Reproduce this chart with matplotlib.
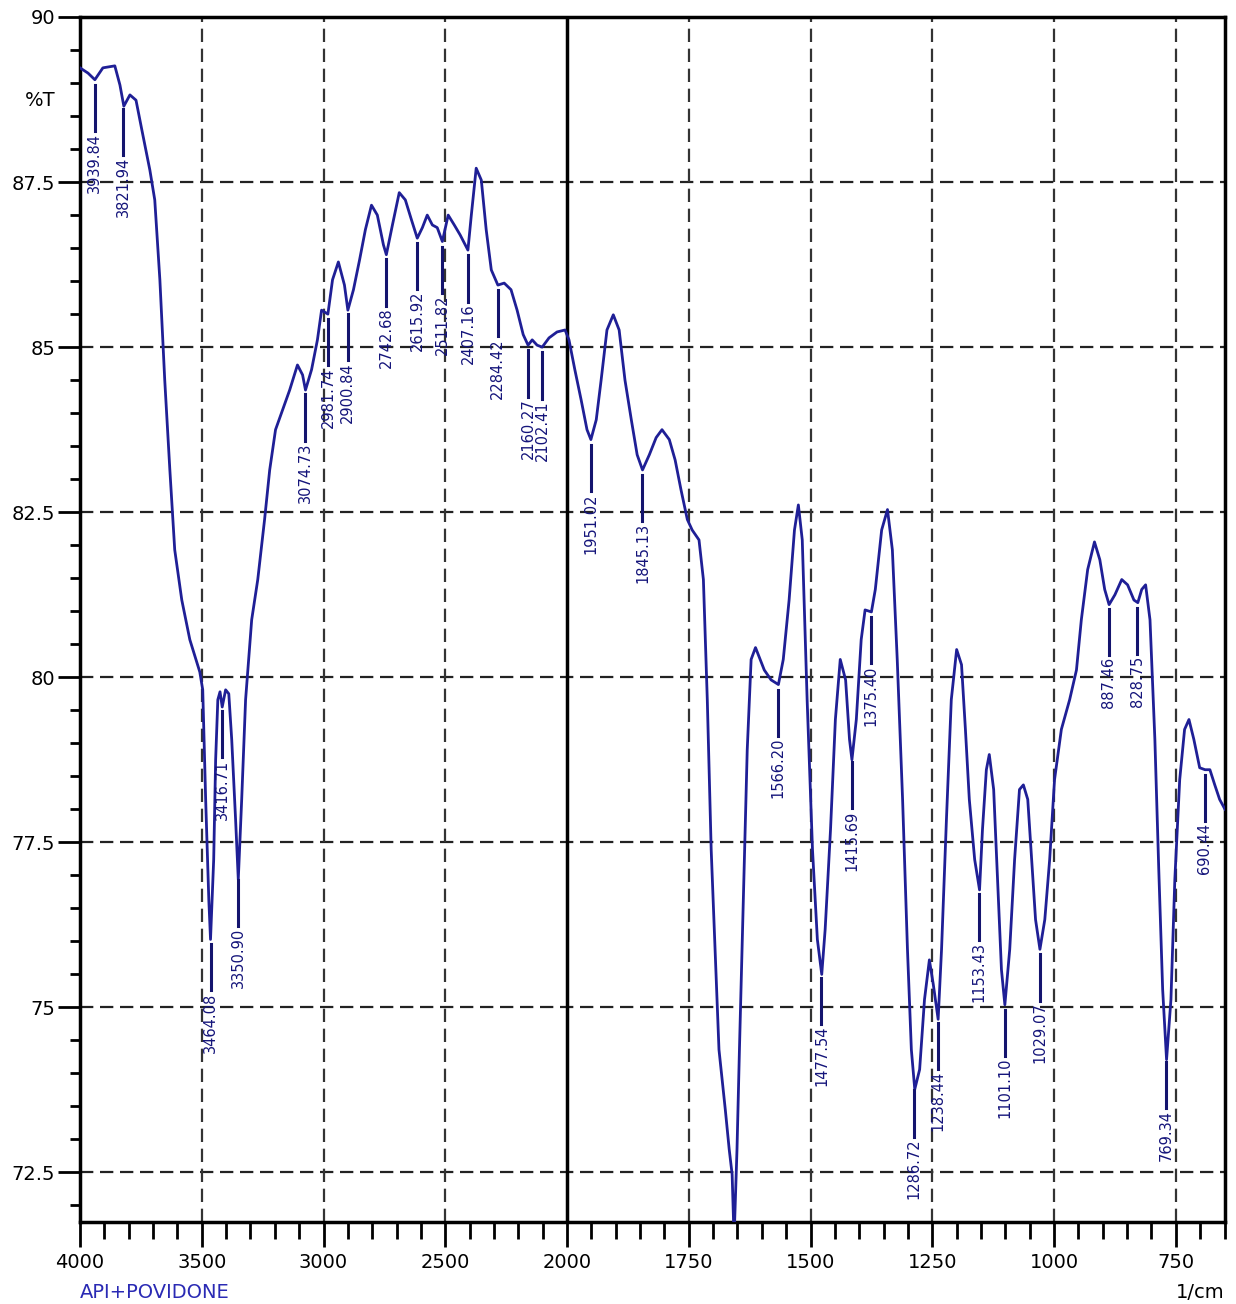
import numpy as np
import matplotlib.pyplot as plt
from matplotlib.ticker import FixedLocator, NullFormatter

# spectrum (wavenumber in 1/cm, transmittance in %T)
wavenumber = [4000, 3967, 3939, 3906, 3857, 3836, 3820, 3795, 3770, 3746,
              3713, 3693, 3672, 3652, 3631, 3611, 3582, 3549, 3508, 3496,
              3484, 3471, 3464, 3451, 3443, 3434, 3425, 3416, 3402, 3389,
              3377, 3361, 3350, 3336, 3320, 3295, 3270, 3242, 3221, 3197,
              3168, 3139, 3107, 3086, 3074, 3049, 3025, 3008, 2982, 2963,
              2939, 2914, 2900, 2877, 2852, 2828, 2803, 2779, 2754, 2742,
              2717, 2689, 2664, 2639, 2615, 2594, 2574, 2553, 2533, 2512,
              2488, 2463, 2439, 2407, 2393, 2373, 2352, 2332, 2311, 2284,
              2258, 2230, 2205, 2180, 2160, 2143, 2123, 2102, 2074, 2041,
              2008, 1996, 1984, 1971, 1959, 1951, 1940, 1930, 1918, 1905,
              1893, 1881, 1868, 1856, 1845, 1831, 1817, 1805, 1790, 1778,
              1766, 1753, 1743, 1729, 1720, 1712, 1704, 1696, 1688, 1675,
              1667, 1661, 1657, 1651, 1646, 1638, 1630, 1622, 1613, 1595,
              1581, 1566, 1556, 1544, 1533, 1525, 1517, 1507, 1496, 1486,
              1477, 1470, 1459, 1449, 1439, 1428, 1420, 1415, 1406, 1396,
              1388, 1375, 1367, 1354, 1342, 1332, 1322, 1311, 1301, 1293,
              1286, 1276, 1266, 1256, 1248, 1238, 1231, 1221, 1211, 1200,
              1190, 1182, 1174, 1163, 1153, 1147, 1139, 1133, 1124, 1116,
              1108, 1101, 1091, 1081, 1071, 1063, 1054, 1046, 1038, 1029,
              1019, 1009, 999, 985, 968, 954, 944, 931, 917, 906,
              896, 887, 875, 861, 849, 836, 828, 820, 812, 803,
              793, 785, 777, 769, 760, 752, 742, 732, 723, 713,
              701, 690, 680, 670, 660, 649]
transmittance = [89.23, 89.15, 89.05, 89.23, 89.26, 88.97, 88.65, 88.82, 88.74, 88.29,
                 87.68, 87.23, 86.02, 84.50, 83.14, 81.93, 81.17, 80.57, 80.08, 79.81,
                 78.15, 76.63, 76.03, 77.24, 78.75, 79.66, 79.78, 79.55, 79.81, 79.75,
                 79.06, 77.84, 76.94, 78.15, 79.66, 80.87, 81.48, 82.39, 83.14, 83.75,
                 84.05, 84.35, 84.73, 84.58, 84.35, 84.66, 85.11, 85.56, 85.50, 86.02,
                 86.29, 85.94, 85.56, 85.87, 86.32, 86.78, 87.15, 87.00, 86.55, 86.40,
                 86.85, 87.34, 87.23, 86.93, 86.65, 86.81, 87.00, 86.85, 86.81, 86.60,
                 87.00, 86.85, 86.70, 86.47, 87.00, 87.71, 87.53, 86.78, 86.17, 85.94,
                 85.97, 85.87, 85.56, 85.19, 85.03, 85.11, 85.03, 85.00, 85.14, 85.23,
                 85.26, 85.11, 84.66, 84.20, 83.75, 83.60, 83.90, 84.50, 85.26, 85.49,
                 85.26, 84.50, 83.90, 83.37, 83.14, 83.37, 83.63, 83.75, 83.60, 83.29,
                 82.84, 82.39, 82.23, 82.08, 81.48, 79.66, 77.39, 75.88, 74.36, 73.45,
                 72.85, 72.47, 71.49, 72.85, 74.36, 76.63, 78.90, 80.27, 80.45, 80.11,
                 79.96, 79.89, 80.27, 81.17, 82.23, 82.61, 82.08, 79.66, 77.39, 76.03,
                 75.50, 76.18, 77.69, 79.36, 80.27, 79.96, 79.06, 78.75, 79.36, 80.57,
                 81.02, 80.99, 81.33, 82.23, 82.54, 81.93, 80.27, 78.15, 75.88, 74.36,
                 73.76, 74.06, 75.12, 75.72, 75.35, 74.82, 75.88, 77.84, 79.66, 80.42,
                 80.19, 79.21, 78.15, 77.24, 76.78, 77.69, 78.60, 78.83, 78.30, 76.94,
                 75.57, 75.04, 75.88, 77.24, 78.30, 78.37, 78.15, 77.24, 76.33, 75.88,
                 76.33, 77.24, 78.45, 79.21, 79.66, 80.11, 80.87, 81.63, 82.05, 81.78,
                 81.33, 81.10, 81.25, 81.48, 81.40, 81.17, 81.13, 81.33, 81.40, 80.87,
                 79.06, 77.09, 75.27, 74.21, 75.12, 76.94, 78.45, 79.21, 79.36, 79.06,
                 78.63, 78.60, 78.60, 78.37, 78.15, 78.00]

# picked peaks
peaks = [3939.84, 3821.94, 3464.08, 3416.71, 3350.90, 3074.73, 2981.74, 2900.84,
         2742.68, 2615.92, 2511.82, 2407.16, 2284.42, 2160.27, 2102.41, 1951.02,
         1845.13, 1566.20, 1477.54, 1415.69, 1375.40, 1286.72, 1238.44, 1153.43,
         1101.10, 1029.07, 887.46, 828.75, 769.34, 690.44]

y_ticks = [90, 87.5, 85, 82.5, 80, 77.5, 75, 72.5]
y_ticklabels = ['90', '87.5', '85', '82.5', '80', '77.5', '75', '72.5']
x_ticks = [4000, 3500, 3000, 2500, 2000, 1750, 1500, 1250, 1000, 750]

NAVY = '#1f1f96'


def fwd(w):
    # shimadzu style axis: half the scale above 2000 1/cm
    w = np.asarray(w, dtype=float)
    return np.where(w >= 2000, (w - 2000) / 500.0, (w - 2000) / 250.0)


def inv(u):
    u = np.asarray(u, dtype=float)
    return np.where(u >= 0, 2000 + 500 * u, 2000 + 250 * u)


fig = plt.figure(figsize=(12.36, 13.04), dpi=100)
ax = fig.add_axes([80 / 1236, 82 / 1304, 1145 / 1236, 1205 / 1304])
ax.set_xscale('function', functions=(fwd, inv))
ax.set_xlim(4000, 649)
ax.set_ylim(71.75, 90)

# grid
for yv in y_ticks[1:]:
    ax.axhline(yv, color='#222222', lw=1.6, dashes=(6, 3), zorder=1)
for xv in x_ticks:
    if xv == 2000:
        ax.axvline(xv, color='black', lw=2.5, zorder=1)
    else:
        ax.axvline(xv, color='#333333', lw=1.6, dashes=(6, 3), zorder=1)

ax.plot(wavenumber, transmittance, color=NAVY, lw=2.0, zorder=3)

wn_inc = np.array(wavenumber[::-1], dtype=float)
t_inc = np.array(transmittance[::-1], dtype=float)
for p in peaks:
    t0 = np.interp(p, wn_inc, t_inc) - 0.08
    t1 = t0 - 0.7
    ax.plot([p, p], [t0, t1], color='#14146e', lw=2.2, zorder=4)
    ax.text(p, t1 - 0.03, f'{p:.2f}', rotation=90, ha='center', va='top',
            fontsize=10.5, color='#14147a', zorder=4)

# ticks
ax.yaxis.set_major_locator(FixedLocator(y_ticks))
ax.set_yticklabels(y_ticklabels)
ax.yaxis.set_minor_locator(FixedLocator(np.arange(72.0, 90.01, 0.5)))
ax.xaxis.set_major_locator(FixedLocator(x_ticks))
ax.set_xticklabels([str(v) for v in x_ticks])
minor_x = list(np.arange(3900, 2000, -100)) + list(np.arange(1950, 649, -50))
ax.xaxis.set_minor_locator(FixedLocator(minor_x))
ax.xaxis.set_minor_formatter(NullFormatter())
ax.tick_params(axis='y', which='major', length=16, width=2, pad=2, labelsize=14)
ax.tick_params(axis='y', which='minor', length=7, width=2)
ax.tick_params(axis='x', which='major', length=18, width=2, pad=4, labelsize=14)
ax.tick_params(axis='x', which='minor', length=12, width=2)

for s in ax.spines.values():
    s.set_linewidth(2.5)

ax.text(-0.035, 88.74, '%T', transform=ax.get_yaxis_transform(),
        ha='center', va='center', fontsize=14)
fig.text(80 / 1236, 1 - 1293 / 1304, 'API+POVIDONE', ha='left', va='center',
         fontsize=14, color='#2a2ab4')
fig.text(1225 / 1236, 1 - 1293 / 1304, '1/cm', ha='right', va='center',
         fontsize=14, color='black')

fig.savefig('out.png', dpi=100)
